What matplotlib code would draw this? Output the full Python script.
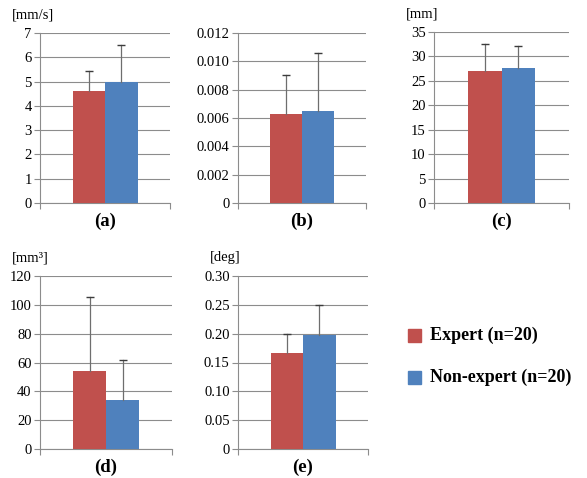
import matplotlib.pyplot as plt
from matplotlib import ticker

plt.rcParams["font.family"] = ["Liberation Serif", "DejaVu Serif"]

GROUPS = ["Expert (n=20)", "Non-expert (n=20)"]
COLORS = ["#C0504D", "#4F81BD"]

PANELS = ["(a)", "(b)", "(c)", "(d)", "(e)"]
UNITS = ["[mm/s]", "", "[mm]", "[mm³]", "[deg]"]

MEAN_A = [4.6, 5.0]
SD_A = [0.85, 1.5]
MEAN_B = [0.0063, 0.0065]
SD_B = [0.0027, 0.0041]
MEAN_C = [27.0, 27.7]
SD_C = [5.5, 4.5]
MEAN_D = [54.0, 34.0]
SD_D = [51.5, 27.5]
MEAN_E = [0.167, 0.197]
SD_E = [0.033, 0.053]

YMAX = [7, 0.012, 35, 120, 0.30]
YSTEP = [1, 0.002, 5, 20, 0.05]
YFMT = ["{:.0f}", "{:.3f}", "{:.0f}", "{:.0f}", "{:.2f}"]

# axes boxes in pixels: left, top(y of max), right, bottom(y of zero)
BOXES = [
    (40, 33, 170, 203),
    (238, 33, 366, 203),
    (434, 32, 569, 203),
    (40, 276, 172, 449),
    (238, 276, 368, 449),
]

W, H = 587, 478
GRID = "#8c8c8c"


def main():
    fig = plt.figure(figsize=(W / 100, H / 100), dpi=100)
    means = [MEAN_A, MEAN_B, MEAN_C, MEAN_D, MEAN_E]
    sds = [SD_A, SD_B, SD_C, SD_D, SD_E]
    for i, (l, t, r, b) in enumerate(BOXES):
        ax = fig.add_axes([l / W, 1 - b / H, (r - l) / W, (b - t) / H])
        xs = [-0.25, 0.25]
        ax.bar(xs, means[i], width=0.5, color=COLORS, zorder=3)
        for x, m, s in zip(xs, means[i], sds[i]):
            ax.plot([x, x], [m, m + s], color="#6e6e6e", lw=0.9, zorder=4)
            ax.plot([x], [m + s], marker="_", ms=6, mew=1.0,
                    color="#3c3c3c", zorder=4)
        ax.set_xlim(-1, 1)
        ax.set_ylim(0, YMAX[i])
        ax.yaxis.set_major_locator(ticker.MultipleLocator(YSTEP[i]))
        fmt = YFMT[i]
        ax.yaxis.set_major_formatter(ticker.FuncFormatter(
            lambda v, p, f=fmt: "0" if abs(v) < 1e-12 else f.format(v)))
        ax.set_xticks([-1, 1])
        ax.set_xticklabels([])
        ax.grid(axis="y", color=GRID, lw=0.8, zorder=0)
        for s in ["top", "right"]:
            ax.spines[s].set_visible(False)
        for s in ["left", "bottom"]:
            ax.spines[s].set_color(GRID)
            ax.spines[s].set_linewidth(0.8)
        ax.tick_params(axis="both", color=GRID, length=4, width=0.8,
                       labelsize=10.5, pad=2)
        ax.set_xlabel(PANELS[i], fontsize=13.5, fontweight="bold", labelpad=1)
        if UNITS[i]:
            fig.text((l - 28) / W, 1 - (t - 18) / H, UNITS[i],
                     fontsize=10.5, ha="left", va="center")

    for j, (g, c) in enumerate(zip(GROUPS, COLORS)):
        y = 335 + 42 * j
        fig.patches.append(plt.Rectangle((408 / W, 1 - (y + 7) / H),
                                         13 / W, 13 / H, color=c,
                                         transform=fig.transFigure))
        fig.text(430 / W, 1 - y / H, g, fontsize=13, fontweight="bold",
                 ha="left", va="center")

    fig.savefig("out.png", dpi=100)


if __name__ == "__main__":
    main()
